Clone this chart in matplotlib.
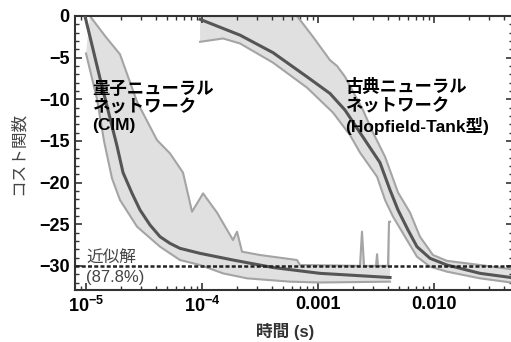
import numpy as np
import matplotlib
matplotlib.use("Agg")
import matplotlib.pyplot as plt
from matplotlib.ticker import FixedLocator, NullFormatter, MultipleLocator

plt.rcParams['font.family'] = ['Liberation Sans', 'Noto Sans CJK JP', 'DejaVu Sans']
plt.rcParams['mathtext.fontset'] = 'custom'
plt.rcParams['mathtext.bf'] = 'Liberation Sans:bold'
plt.rcParams['mathtext.rm'] = 'Liberation Sans'

# time values given as log10(seconds), cost values
# quantum neural network (CIM)
cim_mean_logt = [-5.009, -4.879, -4.733, -4.681, -4.603, -4.534, -4.448, -4.362,
                 -4.276, -4.190, -4.017, -3.733, -3.388, -2.983, -2.379]
cim_mean = [0.0, -7.5, -15.6, -18.8, -21.3, -23.3, -25.1, -26.5,
            -27.3, -27.9, -28.5, -29.3, -30.2, -30.9, -31.4]
cim_hi_logt = [-4.966, -4.836, -4.707, -4.560, -4.388, -4.276, -4.164, -4.086,
               -3.991, -3.871, -3.733, -3.698, -3.655, -3.500, -3.181, -3.155,
               -2.638, -2.621, -2.603, -2.500, -2.491, -2.483, -2.397, -2.388,
               -2.379]
cim_hi = [0.0, -2.4, -4.6, -10.3, -14.9, -16.5, -18.8, -23.5,
          -21.3, -23.6, -26.9, -25.9, -28.3, -28.7, -29.3, -29.9,
          -30.0, -25.9, -30.0, -30.0, -28.6, -30.0, -30.0, -24.7,
          -24.7]
cim_lo_logt = [-5.0, -4.905, -4.845, -4.776, -4.707, -4.560, -4.362, -4.190,
               -4.017, -3.819, -3.612, -3.241, -2.983, -2.379]
cim_lo = [-4.5, -10.0, -15.0, -19.5, -22.1, -25.3, -27.7, -29.3,
          -29.9, -30.9, -31.5, -31.9, -32.0, -31.9]

# classical neural network (Hopfield-Tank)
hop_mean_logt = [-4.017, -3.672, -3.388, -3.095, -2.897, -2.767, -2.638, -2.466,
                 -2.379, -2.310, -2.224, -2.147, -2.034, -1.888, -1.603, -1.336]
hop_mean = [-0.4, -2.3, -4.4, -7.3, -9.3, -11.3, -14.0, -17.6,
            -20.9, -23.3, -25.7, -27.7, -29.1, -29.9, -30.9, -31.4]
hop_hi_logt = [-4.017, -3.181, -3.043, -2.897, -2.836, -2.767, -2.612, -2.526,
               -2.422, -2.310, -2.207, -2.121, -2.009, -1.888, -1.603, -1.336]
hop_hi = [0.0, 0.0, -2.5, -5.3, -6.0, -7.3, -11.3, -14.0,
          -16.9, -21.2, -23.6, -26.5, -28.7, -29.4, -29.9, -30.4]
hop_lo_logt = [-4.017, -3.819, -3.672, -3.388, -3.095, -2.871, -2.724, -2.638,
               -2.491, -2.422, -2.353, -2.233, -2.147, -2.034, -1.888, -1.603,
               -1.336]
hop_lo = [-3.1, -2.7, -3.3, -5.6, -8.6, -11.6, -14.3, -16.4,
          -19.3, -22.1, -24.1, -26.9, -28.9, -30.1, -30.7, -31.5,
          -32.0]

approx_level = -30.0
xtick_vals = [1e-5, 1e-4, 1e-3, 1e-2]
xtick_labels = [r'$\mathbf{10^{-5}}$', r'$\mathbf{10^{-4}}$', '0.001', '0.010']
ytick_vals = [0, -5, -10, -15, -20, -25, -30]

fill_c = '#e0e0e0'
edge_c = '#a4a4a4'
mean_c = '#555555'

fig = plt.figure(figsize=(5.11, 3.42), dpi=100)
ax = fig.add_axes([75 / 511, 1 - 290 / 342, 438 / 511, 274 / 342])


def band(ax, hx, hy, lx, ly, mx, my):
    hx = 10 ** np.array(hx)
    lx = 10 ** np.array(lx)
    mx = 10 ** np.array(mx)
    px = np.concatenate([hx, lx[::-1]])
    py = np.concatenate([hy, ly[::-1]])
    ax.fill(px, py, color=fill_c, lw=0, zorder=1)
    ax.plot(hx, hy, color=edge_c, lw=1.5, zorder=2)
    ax.plot(lx, ly, color=edge_c, lw=1.5, zorder=2)
    ax.plot(mx, my, color=mean_c, lw=2.2, zorder=3, solid_joinstyle='round')


band(ax, cim_hi_logt, cim_hi, cim_lo_logt, cim_lo, cim_mean_logt, cim_mean)
band(ax, hop_hi_logt, hop_hi, hop_lo_logt, hop_lo, hop_mean_logt, hop_mean)

ax.axhline(approx_level, color='#222222', lw=1.8, dashes=(1.6, 0.9), zorder=4)

ax.set_xscale('log')
ax.set_xlim(10 ** -5.095, 10 ** -1.319)
ax.set_ylim(-32.9, 0)

ax.xaxis.set_major_locator(FixedLocator(xtick_vals))
ax.set_xticklabels(xtick_labels)
ax.xaxis.set_minor_formatter(NullFormatter())
ax.set_yticks(ytick_vals)
ax.set_yticklabels([str(v) if v == 0 else '\u2212' + str(-v) for v in ytick_vals])
ax.yaxis.set_minor_locator(MultipleLocator(1))

ax.tick_params(which='both', direction='in', top=True, right=True,
               color='#333333')
ax.tick_params(which='major', length=5, width=1.2, labelsize=13, pad=4)
ax.tick_params(which='minor', length=3, width=1.0)
for lab in ax.get_xticklabels() + ax.get_yticklabels():
    lab.set_fontweight('bold')

for s in ax.spines.values():
    s.set_color('#333333')
    s.set_linewidth(1.5)

ax.set_ylabel('コスト関数', fontsize=12, color='#444444', labelpad=9)
ax.set_xlabel('時間 (s)', fontsize=12, fontweight='bold', color='#333333',
              labelpad=5)
ax.xaxis.label.set_x(0.48)

ax.text(10 ** -4.948, -10.9, '量子ニューラル\nネットワーク\n(CIM)', fontsize=12.5,
        fontweight='bold', va='center', ha='left', linespacing=1.2, zorder=5)
ax.text(10 ** -2.767, -10.9, '古典ニューラル\nネットワーク\n(Hopfield-Tank型)',
        fontsize=12.5, fontweight='bold', va='center', ha='left',
        linespacing=1.2, zorder=5)
ax.text(10 ** -5.0, -30.25, '近似解\n(87.8%)', fontsize=12, color='#444444',
        va='center', ha='left', linespacing=1.35, zorder=5)

fig.savefig('out.png', dpi=100)
